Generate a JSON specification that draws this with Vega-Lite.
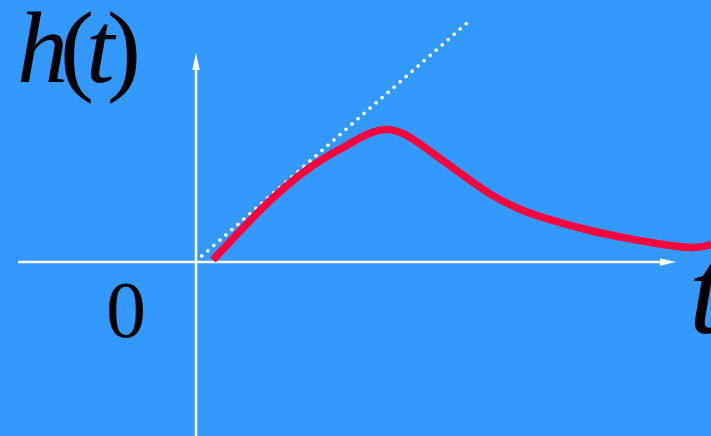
{
  "$schema": "https://vega.github.io/schema/vega-lite/v6.json",
  "width": 711,
  "height": 436,
  "padding": 0,
  "autosize": {"type": "none"},
  "background": "#3399FF",
  "config": {"view": {"stroke": null}},
  "encoding": {
    "x": {"field": "x", "type": "quantitative", "scale": {"domain": [-1.96, 5.15], "nice": false, "zero": false}, "axis": null},
    "y": {"field": "y", "type": "quantitative", "scale": {"domain": [-1.74, 2.62], "nice": false, "zero": false}, "axis": null}
  },
  "layer": [
    {
      "data": {"values": [{"x": -1.78, "x2": 4.66, "y": 0}]},
      "mark": {"type": "rule", "color": "white", "strokeWidth": 2.5},
      "encoding": {"x2": {"field": "x2"}}
    },
    {
      "data": {"values": [{"x": 0, "y": -1.74, "y2": 1.94}]},
      "mark": {"type": "rule", "color": "white", "strokeWidth": 2.5},
      "encoding": {"y2": {"field": "y2"}}
    },
    {
      "data": {"values": [{"x": 4.72, "y": 0}]},
      "mark": {"type": "point", "shape": "M1,0L-1,-0.47L-1,0.47Z", "filled": true, "color": "white", "opacity": 1, "size": 256, "strokeWidth": 0}
    },
    {
      "data": {"values": [{"x": 0, "y": 2.005}]},
      "mark": {"type": "point", "shape": "M0,-1L0.44,1L-0.44,1Z", "filled": true, "color": "white", "opacity": 1, "size": 289, "strokeWidth": 0}
    },
    {
      "data": {"values": [{"x": 0.057, "y": 0.06, "x2": 2.71, "y2": 2.39}]},
      "mark": {"type": "rule", "color": "white", "strokeWidth": 3.5, "strokeCap": "round", "strokeDash": [0.1, 7.9]},
      "encoding": {"x2": {"field": "x2"}, "y2": {"field": "y2"}}
    },
    {
      "data": {"values": [
        {"x": 0.17, "y": 0.02},
        {"x": 0.44, "y": 0.31},
        {"x": 0.74, "y": 0.62},
        {"x": 1.04, "y": 0.88},
        {"x": 1.29, "y": 1.05},
        {"x": 1.49, "y": 1.15},
        {"x": 1.66, "y": 1.26},
        {"x": 1.89, "y": 1.35},
        {"x": 2.09, "y": 1.29},
        {"x": 2.34, "y": 1.11},
        {"x": 2.64, "y": 0.89},
        {"x": 2.94, "y": 0.67},
        {"x": 3.24, "y": 0.52},
        {"x": 3.54, "y": 0.42},
        {"x": 3.94, "y": 0.31},
        {"x": 4.34, "y": 0.23},
        {"x": 4.69, "y": 0.17},
        {"x": 4.94, "y": 0.14},
        {"x": 5.07, "y": 0.15},
        {"x": 5.15, "y": 0.18}
      ]},
      "mark": {"type": "line", "color": "#FF003F", "strokeWidth": 7.5, "interpolate": "basis"}
    },
    {
      "data": {"values": [{"x": -1.79, "y": 1.80, "label": "h"}, {"x": -1.10, "y": 1.80, "label": "t"}]},
      "mark": {"type": "text", "font": "Liberation Serif", "fontStyle": "italic", "fontSize": 102, "align": "left", "baseline": "alphabetic", "color": "black"},
      "encoding": {"text": {"field": "label"}}
    },
    {
      "data": {"values": [{"x": -1.36, "y": 1.80, "label": "("}, {"x": -0.89, "y": 1.80, "label": ")"}]},
      "mark": {"type": "text", "font": "Liberation Serif", "fontSize": 102, "align": "left", "baseline": "alphabetic", "color": "black"},
      "encoding": {"text": {"field": "label"}}
    },
    {
      "data": {"values": [{"x": -0.70, "y": -0.75, "label": "0"}]},
      "mark": {"type": "text", "font": "Liberation Serif", "fontSize": 80, "align": "center", "baseline": "alphabetic", "color": "black"},
      "encoding": {"text": {"field": "label"}}
    },
    {
      "data": {"values": [{"x": 4.93, "y": -0.71, "label": "t"}]},
      "mark": {"type": "text", "font": "Liberation Serif", "fontStyle": "italic", "fontSize": 122, "align": "left", "baseline": "alphabetic", "color": "black"},
      "encoding": {"text": {"field": "label"}}
    }
  ]
}
